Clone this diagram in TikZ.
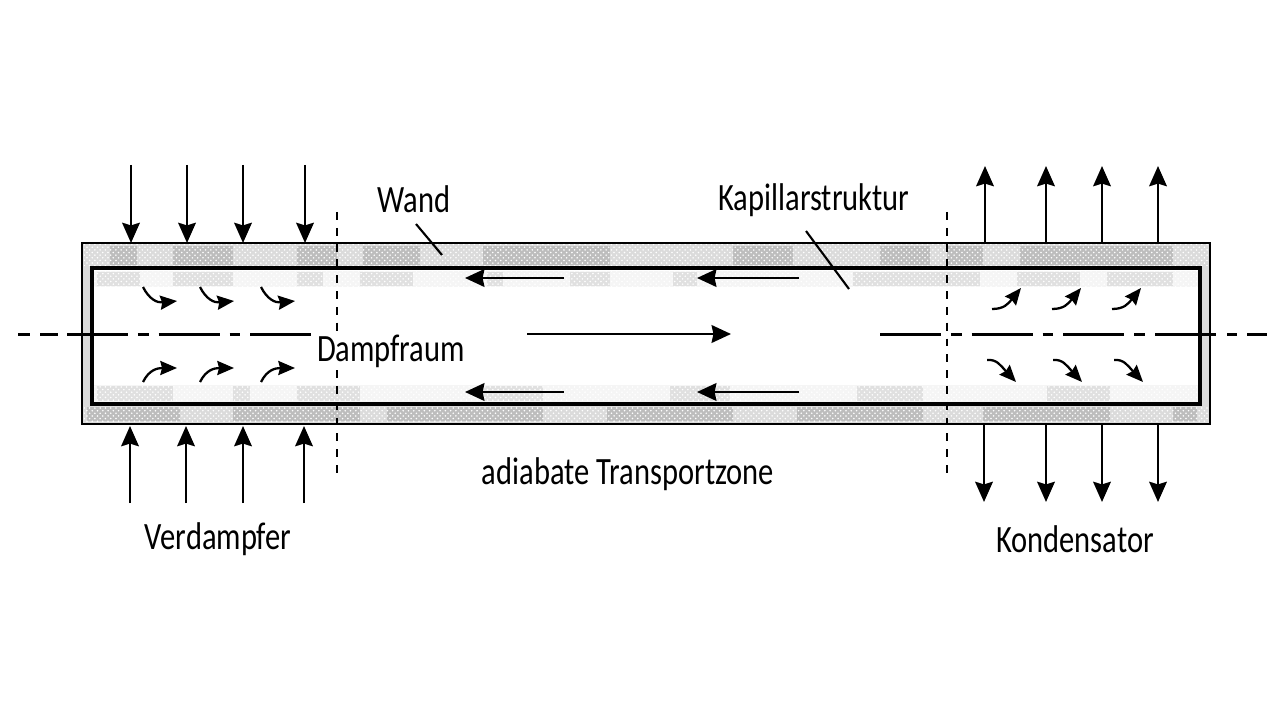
\documentclass[tikz,border=0pt]{standalone}
\usepackage{fontspec}
\setmainfont{Carlito}
\usetikzlibrary{arrows.meta, patterns}
\definecolor{wallbase}{gray}{0.86}
\definecolor{walldark}{gray}{0.74}
\definecolor{wickbase}{gray}{0.96}
\definecolor{wickdark}{gray}{0.88}
\tikzset{
  heat/.style={line width=1.6pt,-{Stealth[length=11.5pt,width=10pt,inset=1.5pt]}},
  flow/.style={line width=1.6pt,-{Stealth[length=11pt,width=10pt,inset=1pt]}},
  swirl/.style={line width=1.3pt,-{Stealth[length=9.5pt,width=8pt,inset=1pt]}},
  partname/.style={font=\fontsize{22}{24}\selectfont,xscale=0.79,transform shape},
  zone/.style={line width=1.2pt,dash pattern=on 4.5pt off 4.5pt},
  axis/.style={line width=1.2pt,dash pattern=on 34.6pt off 5.7pt on 6.2pt off 5.7pt},
}
\begin{document}
\begin{tikzpicture}[x=0.02cm,y=-0.02cm]
  \useasboundingbox (0,0) rectangle (1280,719);
  % wall and capillary bands
  \fill[wallbase] (82,243) rectangle (1210,424);
  \fill[white] (92,268) rectangle (1200,404);
  \fill[wickbase] (94,271) rectangle (1198,287);
  \fill[wickbase] (94,385) rectangle (1198,402);
  \foreach \xa/\xb in {110/137,173/233,297/337,363/420,483/610,733/793,880/930,947/983,1020/1173}
    \fill[walldark] (\xa,246) rectangle (\xb,265);
  \foreach \xa/\xb in {87/180,233/360,387/480,440/543,607/733,797/923,983/1110,1173/1197}
    \fill[walldark] (\xa,407) rectangle (\xb,421);
  \foreach \xa/\xb in {97/140,173/233,297/323,360/413,487/503,570/610,673/697,853/980,1017/1080,1107/1173}
    \fill[wickdark] (\xa,272) rectangle (\xb,286);
  \foreach \xa/\xb in {97/173,233/250,297/360,483/543,670/730,857/923,1047/1110}
    \fill[wickdark] (\xa,386) rectangle (\xb,401);
  \fill[pattern=crosshatch dots,pattern color=white] (84,245) rectangle (1208,266);
  \fill[pattern=crosshatch dots,pattern color=white] (84,406) rectangle (1208,422);
  \fill[pattern=crosshatch dots,pattern color=white] (94,271) rectangle (1198,287);
  \fill[pattern=crosshatch dots,pattern color=white] (94,385) rectangle (1198,402);
  \draw[line width=1.5pt] (82,243) rectangle (1210,424);
  \draw[line width=1.8pt] (92,268) rectangle (1200,404);
  % zone limits and axis
  \draw[zone] (337,212) -- (337,476);
  \draw[zone] (947,212) -- (947,476);
  \draw[axis] (67,334.5) -- (311,334.5);
  \draw[axis] (880,334.5) -- (1217,334.5);
  \foreach \xa/\xb in {18/30,40/58,1227/1237,1247/1267}
    \draw[line width=1.2pt] (\xa,334.5) -- (\xb,334.5);
  % heat in and out
  \foreach \x in {131,187,243,305} \draw[heat] (\x,165) -- (\x,243);
  \foreach \x in {130,186,243,304} \draw[heat] (\x,503) -- (\x,426);
  \foreach \x in {985,1046,1102,1158} \draw[heat] (\x,243) -- (\x,166);
  \foreach \x in {984,1046,1102,1158} \draw[heat] (\x,425) -- (\x,502);
  % liquid and vapour
  \foreach \y in {278,392}{
    \draw[flow] (564,\y) -- (465,\y);
    \draw[flow] (799,\y) -- (697,\y);
  }
  \draw[flow] (527,334) -- (731,334);
  % evaporation and condensation
  \foreach \x in {143,200,261}{
    \draw[swirl] (\x,287) .. controls (\x+6,299) and (\x+14,303) .. (\x+34,301);
    \draw[swirl] (\x,382) .. controls (\x+6,370) and (\x+14,368) .. (\x+34,368);
  }
  \foreach \x in {992,1052,1112}{
    \draw[swirl] (\x,309) .. controls (\x+12,309) and (\x+16,304) .. (\x+29,288);
  }
  \foreach \x in {987,1053,1114}{
    \draw[swirl] (\x,360) .. controls (\x+10,359) and (\x+14,366) .. (\x+29,382);
  }
  % names
  \node[partname] (wand) at (414,199) {Wand};
  \node[partname] (kapillar) at (814,200) {Kapillarstruktur};
  \node[partname,fill=white,inner sep=1pt] (dampf) at (391,351) {Dampfraum};
  \node[partname] (zonename) at (628,474) {adiabate Transportzone};
  \node[partname] (verd) at (218,539) {Verdampfer};
  \node[partname] (kond) at (1075,539) {Kondensator};
  \coordinate (wandstart) at (416,224);
  \coordinate (wandend) at (442,255);
  \coordinate (kapstart) at (806,231);
  \coordinate (kapend) at (849,289);
  \draw[line width=1.2pt] (wandstart) -- (wandend);
  \draw[line width=1.2pt] (kapstart) -- (kapend);
\end{tikzpicture}
\end{document}
